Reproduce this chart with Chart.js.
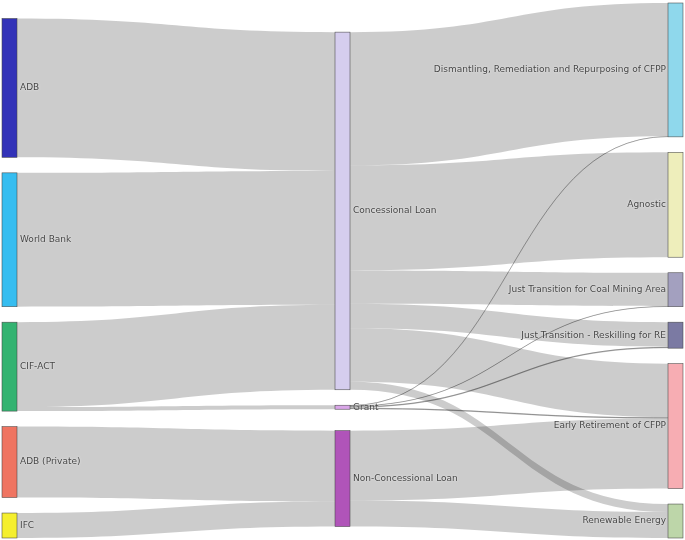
<!DOCTYPE html>
<html>
<head>
<meta charset="utf-8">
<script src="https://cdn.jsdelivr.net/npm/chart.js@4.4.0/dist/chart.umd.min.js"></script>
<style>
    html, body { margin: 0; padding: 0; background: #fff; }
    #wrap { width: 685px; height: 540px; position: relative; }
</style>
</head>
<body>
<div id="wrap"><canvas id="sankey"></canvas></div>
<script>
// nodes (column 0 = funders, 1 = instruments, 2 = uses)
var nodeLabels = ['ADB', 'World Bank', 'CIF-ACT', 'ADB (Private)', 'IFC',
    'Concessional Loan', 'Grant', 'Non-Concessional Loan',
    'Dismantling, Remediation and Repurposing of CFPP', 'Agnostic',
    'Just Transition for Coal Mining Area', 'Just Transition - Reskilling for RE',
    'Early Retirement of CFPP', 'Renewable Energy'];
var nodeColumns = [0, 0, 0, 0, 0, 1, 1, 1, 2, 2, 2, 2, 2, 2];
var nodeColors = ['#3232b8', '#36bdf0', '#33b371', '#ef7461', '#f5ef2e',
    '#d5cdee', '#d9a6e8', '#b054b9',
    '#8fd8ec', '#eeeebb', '#a3a0bf', '#7b7aa3', '#f7adb3', '#bdd6a9'];

// links
var linkFrom = ['ADB', 'World Bank', 'CIF-ACT', 'CIF-ACT', 'ADB (Private)', 'IFC',
    'Concessional Loan', 'Concessional Loan', 'Concessional Loan', 'Concessional Loan', 'Concessional Loan', 'Concessional Loan',
    'Grant', 'Grant', 'Grant', 'Grant',
    'Non-Concessional Loan', 'Non-Concessional Loan'];
var linkTo = ['Concessional Loan', 'Concessional Loan', 'Concessional Loan', 'Grant', 'Non-Concessional Loan', 'Non-Concessional Loan',
    'Dismantling, Remediation and Repurposing of CFPP', 'Agnostic', 'Just Transition for Coal Mining Area',
    'Just Transition - Reskilling for RE', 'Early Retirement of CFPP', 'Renewable Energy',
    'Dismantling, Remediation and Repurposing of CFPP', 'Just Transition for Coal Mining Area',
    'Just Transition - Reskilling for RE', 'Early Retirement of CFPP',
    'Early Retirement of CFPP', 'Renewable Energy'];
var linkValues = [139, 134, 85, 4, 71, 25,
    133.5, 105, 33.5, 24.5, 53.5, 8,
    0.5, 0.5, 1.5, 1.5,
    70, 26];

var nodeWidth = 15;
var nodePadding = 15.5;
var pad = { left: 2, right: 2 + nodeWidth, top: 3, bottom: 2 };

function total(list) {
    var s = 0;
    for (var x of list) s += x.value;
    return s;
}

function buildLayout(plotHeight) {
    var nodes = nodeLabels.map(function (label, i) {
        return { label: label, col: nodeColumns[i], color: nodeColors[i], inLinks: [], outLinks: [] };
    });
    var links = linkValues.map(function (v, i) {
        var s = nodes[nodeLabels.indexOf(linkFrom[i])];
        var t = nodes[nodeLabels.indexOf(linkTo[i])];
        var link = { source: s, target: t, value: v };
        s.outLinks.push(link);
        t.inLinks.push(link);
        return link;
    });
    var columns = [];
    for (var n of nodes) {
        n.value = Math.max(total(n.inLinks), total(n.outLinks));
        (columns[n.col] = columns[n.col] || []).push(n);
    }

    var ky = Infinity;
    for (var col of columns)
        ky = Math.min(ky, (plotHeight - (col.length - 1) * nodePadding) / total(col));
    var gap = nodePadding / ky;
    var yMax = plotHeight / ky;

    columns.forEach(function (col, c) {
        var y;
        if (c === 0) {
            // first column sits on the bottom edge
            y = yMax - total(col) - (col.length - 1) * gap;
            for (var n of col) { n.y0 = y; n.y1 = y + n.value; y = n.y1 + gap; }
            return;
        }
        // pull each node to the weighted centre of its sources
        for (var n of col) {
            var acc = 0, w = 0;
            for (var l of n.inLinks) {
                acc += (l.source.y0 + l.source.y1) / 2 * l.value;
                w += l.value;
            }
            n.y0 = acc / w - n.value / 2;
        }
        // then resolve overlaps, downwards first and back up if it spills
        y = 0;
        for (var n of col) {
            if (n.y0 < y) n.y0 = y;
            n.y1 = n.y0 + n.value;
            y = n.y1 + gap;
        }
        var bottom = yMax;
        for (var i = col.length - 1; i >= 0; i--) {
            var m = col[i];
            if (m.y1 > bottom) { m.y1 = bottom; m.y0 = bottom - m.value; }
            bottom = m.y0 - gap;
        }
    });

    for (var n of nodes) {
        n.outLinks.sort(function (a, b) { return a.target.y0 - b.target.y0; });
        n.inLinks.sort(function (a, b) { return a.source.y0 - b.source.y0; });
        var y = n.y0;
        for (var l of n.outLinks) { l.sy0 = y; l.sy1 = y + l.value; y = l.sy1; }
        y = n.y0;
        for (var l of n.inLinks) { l.ty0 = y; l.ty1 = y + l.value; y = l.ty1; }
    }
    return { nodes: nodes, links: links, yMax: yMax, lastCol: columns.length - 1 };
}

var wrap = document.getElementById('wrap');
var layout = buildLayout(wrap.clientHeight - pad.top - pad.bottom);

var sankeyPlugin = {
    id: 'sankey',
    afterDatasetsDraw: function (chart) {
        var ctx = chart.ctx;
        var xs = chart.scales.x;
        var ys = chart.scales.y;
        ctx.save();

        for (var l of layout.links) {
            var x0 = xs.getPixelForValue(l.source.col) + nodeWidth;
            var x1 = xs.getPixelForValue(l.target.col);
            var xm = (x0 + x1) / 2;
            var s0 = ys.getPixelForValue(l.sy0), s1 = ys.getPixelForValue(l.sy1);
            var t0 = ys.getPixelForValue(l.ty0), t1 = ys.getPixelForValue(l.ty1);
            ctx.beginPath();
            ctx.moveTo(x0, s0);
            ctx.bezierCurveTo(xm, s0, xm, t0, x1, t0);
            ctx.lineTo(x1, t1);
            ctx.bezierCurveTo(xm, t1, xm, s1, x0, s1);
            ctx.closePath();
            ctx.fillStyle = 'rgba(0,0,0,0.2)';
            ctx.fill();
            if (s1 - s0 < 2) {
                // hairline links would vanish otherwise
                var sm = (s0 + s1) / 2, tm = (t0 + t1) / 2;
                ctx.beginPath();
                ctx.moveTo(x0, sm);
                ctx.bezierCurveTo(xm, sm, xm, tm, x1, tm);
                ctx.strokeStyle = 'rgba(0,0,0,0.3)';
                ctx.lineWidth = 1;
                ctx.stroke();
            }
        }

        for (var n of layout.nodes) {
            var x = xs.getPixelForValue(n.col);
            var top = ys.getPixelForValue(n.y0);
            var h = ys.getPixelForValue(n.y1) - top;
            ctx.fillStyle = n.color;
            ctx.fillRect(x, top, nodeWidth, h);
            ctx.strokeStyle = 'rgba(68,68,68,0.9)';
            ctx.lineWidth = 0.6;
            ctx.strokeRect(x, top, nodeWidth, h);
        }

        ctx.font = "9px 'DejaVu Sans', Verdana, sans-serif";
        ctx.textBaseline = 'middle';
        ctx.fillStyle = '#444';
        ctx.shadowColor = 'rgba(255,255,255,0.9)';
        ctx.shadowBlur = 1.5;
        for (var n of layout.nodes) {
            var x = xs.getPixelForValue(n.col);
            var yc = ys.getPixelForValue((n.y0 + n.y1) / 2);
            if (n.col === layout.lastCol) {
                ctx.textAlign = 'right';
                ctx.fillText(n.label, x - 2, yc);
            } else {
                ctx.textAlign = 'left';
                ctx.fillText(n.label, x + nodeWidth + 3, yc);
            }
        }
        ctx.restore();
    }
};

var chart = new Chart(document.getElementById('sankey'), {
    type: 'scatter',
    data: { datasets: [{ data: [] }] },
    options: {
        responsive: true,
        maintainAspectRatio: false,
        animation: false,
        layout: { padding: pad },
        plugins: {
            legend: { display: false },
            tooltip: { enabled: false }
        },
        scales: {
            x: { type: 'linear', min: 0, max: layout.lastCol, display: false },
            y: { type: 'linear', min: 0, max: layout.yMax, reverse: true, display: false }
        }
    },
    plugins: [sankeyPlugin]
});
</script>
</body>
</html>
